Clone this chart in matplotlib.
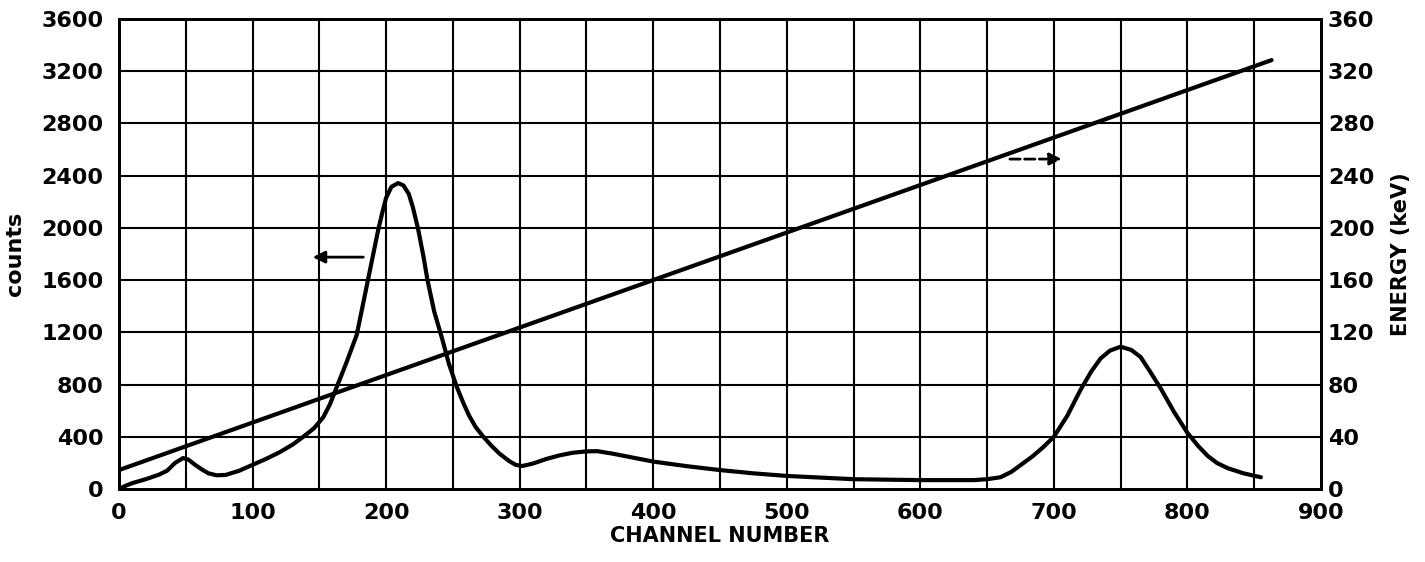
import matplotlib
matplotlib.use("Agg")
import matplotlib.pyplot as plt

# Counts spectrum (left axis)
channel = [0, 5, 10, 20, 30, 36, 42, 48, 52, 57, 62, 67, 73, 80, 90, 100,
           110, 120, 130, 138, 146, 153, 158, 163, 170, 178, 182, 186, 190, 194,
           197, 200, 204, 209, 213, 217, 220, 224, 228, 231, 236, 242, 247, 253,
           258, 262, 267, 273, 279, 285, 292, 297, 302, 310, 320, 330, 340, 350,
           358, 370, 380, 400, 425, 450, 475, 500, 550, 600, 640, 650, 660, 668,
           676, 684, 692, 700, 710, 720, 728, 735, 742, 750, 758, 765, 772, 780,
           790, 800, 808, 815, 822, 830, 842, 855]
counts = [0, 25, 45, 75, 110, 140, 200, 237, 225, 185, 150, 120, 105, 108, 140, 185,
          230, 280, 340, 400, 465, 550, 650, 780, 960, 1180, 1380, 1580, 1780, 1980,
          2110, 2230, 2315, 2343, 2325, 2260, 2160, 1990, 1780, 1600, 1360, 1150, 960, 780,
          655, 565, 475, 398, 330, 270, 215, 185, 176, 195, 230, 258, 278, 288,
          290, 270, 250, 210, 175, 145, 120, 100, 75, 68, 68, 75, 90, 130,
          190, 250, 320, 400, 560, 760, 900, 1000, 1060, 1090, 1065, 1010, 900, 770,
          590, 430, 330, 255, 200, 160, 120, 90]

# Energy calibration (right axis)
cal_channel = [0, 863]
cal_energy = [14.5, 328.5]

x_ticks = [0, 100, 200, 300, 400, 500, 600, 700, 800, 900]
y_ticks = [0, 400, 800, 1200, 1600, 2000, 2400, 2800, 3200, 3600]
e_ticks = [0, 40, 80, 120, 160, 200, 240, 280, 320, 360]

plt.rcParams['font.family'] = ['DejaVu Sans']
plt.rcParams['font.weight'] = 'bold'

fig = plt.figure(figsize=(14.25, 5.62), dpi=100)
ax = fig.add_axes([0.0835, 0.1299, 0.8435, 0.8363])
ax.set_xlim(0, 900)
ax.set_ylim(0, 3600)

# grid every 50 channels, every 400 counts
for xv in range(50, 900, 50):
    ax.axvline(xv, color='black', lw=1.5, zorder=1)
for yv in y_ticks[1:-1]:
    ax.axhline(yv, color='black', lw=1.5, zorder=1)

ax.plot(channel, counts, color='black', lw=3, solid_capstyle='round',
        solid_joinstyle='round', zorder=3)

ax.set_xticks(x_ticks)
ax.set_yticks(y_ticks)
ax.tick_params(axis='x', length=0, pad=10, labelsize=16)
ax.tick_params(axis='y', length=0, pad=11, labelsize=16)
for s in ax.spines.values():
    s.set_linewidth(2)

ax.set_xlabel('CHANNEL NUMBER', fontsize=15, fontweight='bold', labelpad=2)
ax.set_ylabel('counts', fontsize=16, fontweight='bold', labelpad=12)

ax2 = ax.twinx()
ax2.set_ylim(0, 360)
ax2.set_yticks(e_ticks)
ax2.tick_params(axis='y', length=0, pad=5, labelsize=16)
ax2.plot(cal_channel, cal_energy, color='black', lw=3, solid_capstyle='round', zorder=3)
ax2.set_ylabel('ENERGY (keV)', fontsize=15, fontweight='bold', labelpad=12)
for s in ax2.spines.values():
    s.set_linewidth(2)

# arrows indicating axes
ax.annotate('', xy=(143, 1776), xytext=(185, 1776),
            arrowprops=dict(arrowstyle='-|>', color='black', lw=2, mutation_scale=18))
ax.annotate('', xy=(708, 2527), xytext=(665, 2527),
            arrowprops=dict(arrowstyle='-|>', color='black', lw=2, mutation_scale=18,
                            linestyle='--'))

fig.savefig('out.png', dpi=100)
